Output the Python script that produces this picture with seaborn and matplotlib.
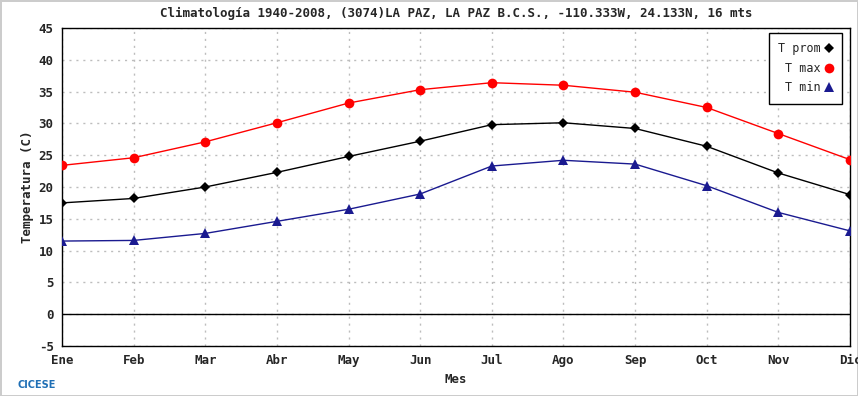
import matplotlib
matplotlib.use("Agg")
import matplotlib.pyplot as plt
import seaborn as sns
import pandas as pd

meses = ["Ene", "Feb", "Mar", "Abr", "May", "Jun", "Jul", "Ago", "Sep", "Oct", "Nov", "Dic"]
t_prom = [17.5, 18.2, 20.0, 22.3, 24.8, 27.2, 29.8, 30.1, 29.2, 26.4, 22.2, 18.8]
t_max = [23.4, 24.6, 27.1, 30.1, 33.2, 35.3, 36.4, 36.0, 34.9, 32.5, 28.4, 24.3]
t_min = [11.5, 11.6, 12.7, 14.6, 16.5, 18.9, 23.3, 24.2, 23.6, 20.2, 16.0, 13.1]
yticks = list(range(-5, 50, 5))

series = {"T prom": t_prom, "T max": t_max, "T min": t_min}
df = pd.concat(
    [pd.DataFrame({"mes": range(len(meses)), "temp": v, "serie": k}) for k, v in series.items()],
    ignore_index=True,
)

sns.set_style("white")
plt.rcParams["font.family"] = ["DejaVu Sans Mono", "DejaVu Sans"]

fig = plt.figure(figsize=(8.58, 3.96), dpi=100)
ax = fig.add_axes([62 / 858, 1 - 346 / 396, (850 - 62) / 858, (346 - 28) / 396])

colores = {"T prom": "black", "T max": "#ff0000", "T min": "#1a1a90"}
marcadores = {"T prom": "D", "T max": "o", "T min": "^"}
tamanos = {"T prom": 5, "T max": 7, "T min": 7}

for nombre in series:
    sub = df[df["serie"] == nombre]
    sns.lineplot(data=sub, x="mes", y="temp", ax=ax, color=colores[nombre],
                 marker=marcadores[nombre], markersize=tamanos[nombre],
                 markeredgewidth=0, linewidth=1, label=nombre, zorder=3)

ax.axhline(0, color="black", linewidth=1, zorder=2)
ax.set_xlim(0, len(meses) - 1)
ax.set_ylim(-5, 45)
ax.set_xticks(range(len(meses)))
ax.set_xticklabels(meses, fontweight="bold", fontsize=9)
ax.set_yticks(yticks)
ax.set_yticklabels([str(t) for t in yticks], fontweight="bold", fontsize=9)
ax.tick_params(axis="both", direction="out", length=4, width=1, color="black", pad=2)
ax.grid(True, color="#bdbdbd", linestyle=(0, (1.5, 3.5)), linewidth=1)
for s in ax.spines.values():
    s.set_color("black")
    s.set_linewidth(1)

ax.set_xlabel("Mes", fontweight="bold", fontsize=9, labelpad=4)
ax.set_ylabel("Temperatura (C)", fontweight="bold", fontsize=9, labelpad=3)
ax.set_title("Climatología 1940-2008, (3074)LA PAZ, LA PAZ B.C.S., -110.333W, 24.133N, 16 mts",
             fontweight="bold", fontsize=9, pad=8)

leg = ax.legend(loc="upper right", markerfirst=False, frameon=True, fancybox=False,
                edgecolor="black", fontsize=8.5, handlelength=0.6, handletextpad=0.4,
                bbox_to_anchor=(0.99, 0.985), borderaxespad=0, labelspacing=0.55,
                borderpad=0.8, framealpha=1)
leg.get_frame().set_linewidth(1)
for h in leg.legend_handles:
    h.set_linestyle("none")

fig.text(0.043, 0.02, "CICESE", color="#1f6fb5", fontsize=7, fontweight="bold",
         family="DejaVu Sans", ha="center")
fig.patch.set_edgecolor("#cccccc")
fig.patch.set_linewidth(1)

fig.savefig("out.png", dpi=100)
